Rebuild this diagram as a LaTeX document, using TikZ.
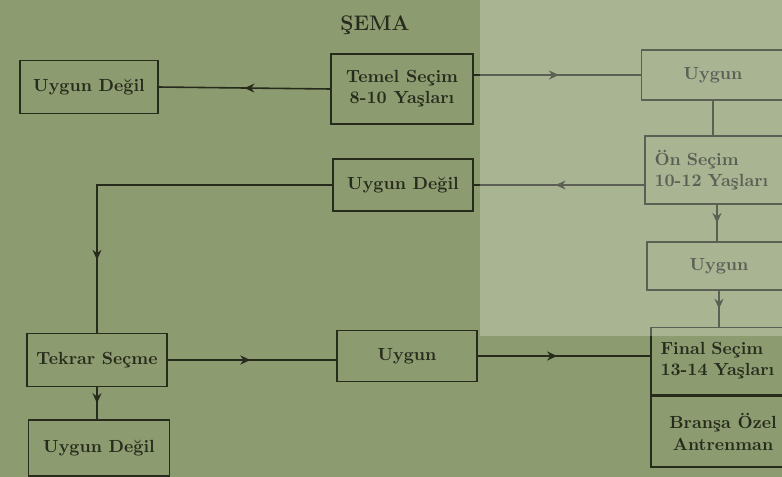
\documentclass[tikz,border=0pt]{standalone}
\usepackage{xcolor}
\usepackage{tikz}
\usetikzlibrary{positioning, arrows.meta, decorations.markings}
\definecolor{paper}{HTML}{8D9B70}
\definecolor{inkdark}{HTML}{262B1C}

\tikzset{
  box/.style={draw=inkdark, line width=1.1pt, text=inkdark, font=\bfseries,
              inner sep=0pt, minimum width=2.8cm, minimum height=1.06cm, align=center},
  lbox/.style={box, align=left, text width=2.5cm},
  link/.style={draw=inkdark, line width=0.9pt},
  midarrow/.style={link, postaction={decorate},
    decoration={markings, mark=at position #1 with {\arrow{Stealth[length=2mm, width=1.8mm]}}}},
  midarrow/.default=0.5
}

\begin{document}
\begin{tikzpicture}[x=0.02cm, y=-0.02cm]
  \useasboundingbox (0,0) rectangle (782,477);
  \clip (0,0) rectangle (782,477);
  \fill[paper] (0,0) rectangle (782,477);

  \node[text=inkdark, font=\large\bfseries] (title) at (375,25) {ŞEMA};

  % first selection row
  \node[box, minimum width=2.84cm, minimum height=1.4cm] (temel) at (402,89)
    {Temel Seçim\\8-10 Yaşları};
  \node[box, minimum width=2.76cm] (udtop) at (89,87) {Uygun Değil};
  \node[box, minimum width=2.86cm, minimum height=1.0cm] (uyg1) at (713,75) {Uygun};

  % right column
  \node[lbox, minimum width=2.88cm, minimum height=1.36cm] (onsecim) at (717,170)
    {Ön Seçim\\10-12 Yaşları};
  \node[box, minimum width=2.88cm, minimum height=0.96cm] (uyg2) at (719,266) {Uygun};
  \node[lbox, minimum width=2.88cm, minimum height=1.34cm] (final) at (723,361)
    {Final Seçim\\13-14 Yaşları};
  \node[box, minimum width=2.88cm, minimum height=1.42cm, below=0pt of final] (brans)
    {Branşa Özel\\Antrenman};

  % middle and left
  \node[box, minimum height=1.04cm] (udmid) at (403,185) {Uygun Değil};
  \node[box] (tekrar) at (97,360) {Tekrar Seçme};
  \node[box, minimum width=2.82cm, minimum height=1.12cm] (udbot) at (99,448) {Uygun Değil};
  \node[box, minimum height=1.02cm] (uyg3) at (407,356) {Uygun};

  % connectors
  \draw[midarrow] (temel.west) -- (udtop.east);
  \draw[midarrow=0.51] (temel.east |- uyg1.west) -- (uyg1.west);
  \draw[link] (uyg1.south) -- (uyg1.south |- onsecim.north);
  \draw[midarrow=0.52] (onsecim.west |- udmid.east) -- (udmid.east);
  \draw[midarrow] (onsecim.south) -- (onsecim.south |- uyg2.north);
  \draw[midarrow] (uyg2.south) -- (uyg2.south |- final.north);
  \draw[midarrow=0.81] (udmid.west) -| (tekrar.north);
  \draw[midarrow=0.49] (tekrar.east) -- (tekrar.east -| uyg3.west);
  \draw[midarrow=0.46] (uyg3.east) -- (uyg3.east -| final.west);
  \draw[midarrow] (tekrar.south) -- (tekrar.south |- udbot.north);

  % lighter band of the scan
  \fill[white, opacity=0.25] (480,0) rectangle (782,336);
\end{tikzpicture}
\end{document}
